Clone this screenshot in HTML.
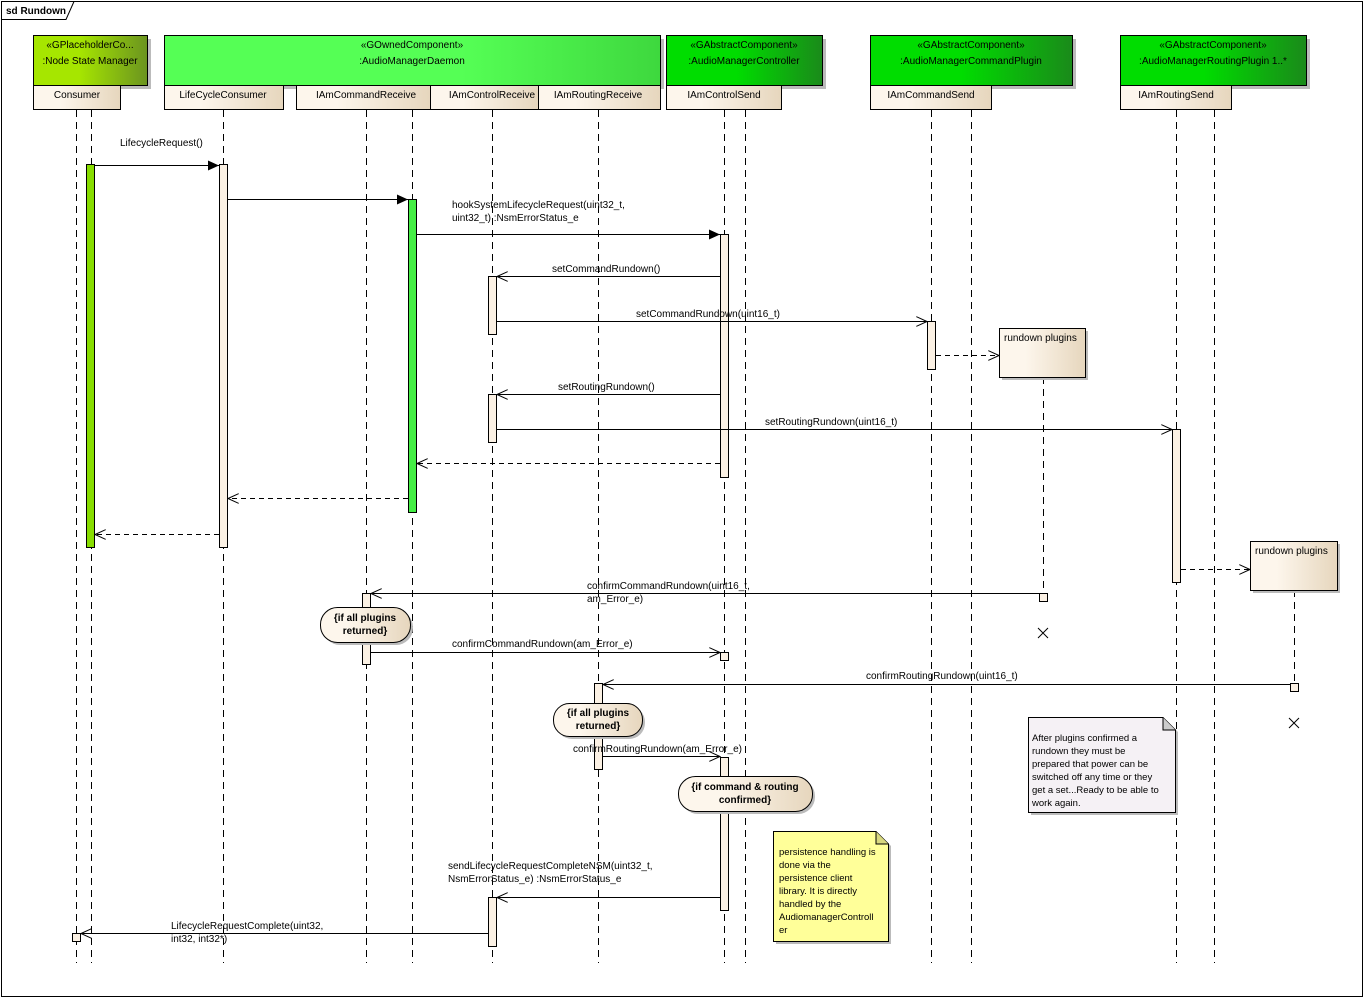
<!DOCTYPE html>
<html><head><meta charset="utf-8"><style>
html,body{margin:0;padding:0;background:#fff;}
svg{display:block;font-family:"Liberation Sans",Arial,sans-serif;font-size:10px;}
</style></head><body>
<svg width="1364" height="999" viewBox="0 0 1364 999" xmlns="http://www.w3.org/2000/svg">
<defs>
<linearGradient id="gN" x1="0" x2="1"><stop offset="0.4" stop-color="#a6e600"/><stop offset="1" stop-color="#6b9420"/></linearGradient>
<linearGradient id="gD" x1="0" x2="1"><stop offset="0.6" stop-color="#55ff55"/><stop offset="1" stop-color="#3ed83e"/></linearGradient>
<linearGradient id="gA" x1="0" x2="1"><stop offset="0.45" stop-color="#00dd00"/><stop offset="1" stop-color="#1a8a1a"/></linearGradient>
<linearGradient id="gP" x1="0" x2="1"><stop offset="0.3" stop-color="#fdf6ec"/><stop offset="1" stop-color="#e6d6bd"/></linearGradient>
<marker id="af" markerWidth="12" markerHeight="10" refX="11" refY="5" orient="auto" markerUnits="userSpaceOnUse"><path d="M0,0 L11,5 L0,10 z" fill="#000"/></marker>
<marker id="ao" markerWidth="12" markerHeight="10" refX="11" refY="5" orient="auto" markerUnits="userSpaceOnUse"><path d="M0,0 L11,5 L0,10" fill="none" stroke="#000"/></marker>
</defs>
<rect x="1.5" y="1.5" width="1361" height="995" fill="#fff" stroke="#000"/>
<path d="M1.5,19.5 H66 L74,1.5" fill="none" stroke="#000"/>
<text x="6" y="14" font-weight="bold">sd Rundown</text>

<g stroke="#000" stroke-dasharray="7,5" stroke-width="1">
<line x1="76.5" y1="110" x2="76.5" y2="963"/><line x1="91.5" y1="110" x2="91.5" y2="963"/>
<line x1="223.5" y1="110" x2="223.5" y2="963"/>
<line x1="366.5" y1="110" x2="366.5" y2="963"/><line x1="412.5" y1="110" x2="412.5" y2="963"/>
<line x1="492.5" y1="110" x2="492.5" y2="963"/>
<line x1="598.5" y1="110" x2="598.5" y2="963"/>
<line x1="724.5" y1="110" x2="724.5" y2="963"/><line x1="745.5" y1="110" x2="745.5" y2="963"/>
<line x1="931.5" y1="110" x2="931.5" y2="963"/><line x1="971.5" y1="110" x2="971.5" y2="963"/>
<line x1="1176.5" y1="110" x2="1176.5" y2="963"/><line x1="1214.5" y1="110" x2="1214.5" y2="963"/>
<line x1="1043.5" y1="377" x2="1043.5" y2="593"/>
<line x1="1294.5" y1="590" x2="1294.5" y2="683"/>
</g>

<g stroke="#000">
<rect x="37" y="39" width="114" height="50" fill="#bbb" stroke="none"/>
<rect x="33.5" y="35.5" width="114" height="50" fill="url(#gN)"/>
<rect x="168" y="39" width="496" height="50" fill="#bbb" stroke="none"/>
<rect x="164.5" y="35.5" width="496" height="50" fill="url(#gD)"/>
<rect x="670" y="39" width="156" height="50" fill="#bbb" stroke="none"/>
<rect x="666.5" y="35.5" width="156" height="50" fill="url(#gA)"/>
<rect x="874" y="39" width="202" height="50" fill="#bbb" stroke="none"/>
<rect x="870.5" y="35.5" width="202" height="50" fill="url(#gA)"/>
<rect x="1124" y="39" width="186" height="50" fill="#bbb" stroke="none"/>
<rect x="1120.5" y="35.5" width="186" height="50" fill="url(#gA)"/>
</g>
<g text-anchor="middle" fill="#000">
<text x="90" y="48">«GPlaceholderCo...</text><text x="90" y="64">:Node State Manager</text>
<text x="412" y="48">«GOwnedComponent»</text><text x="412" y="64">:AudioManagerDaemon</text>
<text x="744" y="48">«GAbstractComponent»</text><text x="744" y="64">:AudioManagerController</text>
<text x="971" y="48">«GAbstractComponent»</text><text x="971" y="64">:AudioManagerCommandPlugin</text>
<text x="1213" y="48">«GAbstractComponent»</text><text x="1213" y="64">:AudioManagerRoutingPlugin 1..*</text>
</g>
<g stroke="#000" fill="url(#gP)">
<rect x="33.5" y="85.5" width="87" height="24"/>
<rect x="164.5" y="85.5" width="119" height="24"/>
<rect x="296.5" y="85.5" width="134" height="24"/>
<rect x="430.5" y="85.5" width="108" height="24"/>
<rect x="538.5" y="85.5" width="122" height="24"/>
<rect x="666.5" y="85.5" width="115" height="24"/>
<rect x="870.5" y="85.5" width="121" height="24"/>
<rect x="1120.5" y="85.5" width="111" height="24"/>
</g>
<g text-anchor="middle">
<text x="77" y="98">Consumer</text>
<text x="223" y="98">LifeCycleConsumer</text>
<text x="366" y="98">IAmCommandReceive</text>
<text x="492" y="98">IAmControlReceive</text>
<text x="598" y="98">IAmRoutingReceive</text>
<text x="724" y="98">IAmControlSend</text>
<text x="931" y="98">IAmCommandSend</text>
<text x="1176" y="98">IAmRoutingSend</text>
</g>

<g stroke="#000" fill="#fbf1e4">
<rect x="86.5" y="164.5" width="8" height="383" fill="#88dd00"/>
<rect x="219.5" y="164.5" width="8" height="383"/>
<rect x="408.5" y="199.5" width="8" height="313" fill="#44ee44"/>
<rect x="720.5" y="234.5" width="8" height="243"/>
<rect x="488.5" y="276.5" width="8" height="58"/>
<rect x="488.5" y="394.5" width="8" height="48"/>
<rect x="927.5" y="321.5" width="8" height="48"/>
<rect x="1172.5" y="429.5" width="8" height="153"/>
<rect x="362.5" y="593.5" width="8" height="71"/>
<rect x="720.5" y="652.5" width="8" height="8"/>
<rect x="594.5" y="683.5" width="8" height="86"/>
<rect x="720.5" y="757.5" width="8" height="153"/>
<rect x="488.5" y="897.5" width="8" height="49"/>
<rect x="72.5" y="933.5" width="8" height="8"/>
<rect x="1039.5" y="593.5" width="8" height="8"/>
<rect x="1290.5" y="683.5" width="8" height="8"/>
</g>
<g stroke="#000"><path d="M1038,628 L1048,638 M1048,628 L1038,638"/><path d="M1289,718 L1299,728 M1299,718 L1289,728"/></g>

<g stroke="#000">
<rect x="1002" y="331" width="86" height="49" fill="#bbb" stroke="none"/>
<rect x="999.5" y="328.5" width="86" height="49" fill="url(#gP)"/>
<rect x="1253" y="544" width="87" height="49" fill="#bbb" stroke="none"/>
<rect x="1250.5" y="541.5" width="87" height="49" fill="url(#gP)"/>
</g>
<text x="1004" y="341">rundown plugins</text>
<text x="1255" y="554">rundown plugins</text>

<g stroke="#000" fill="none">
<line x1="95" y1="165.5" x2="219" y2="165.5" marker-end="url(#af)"/>
<line x1="228" y1="199.5" x2="408" y2="199.5" marker-end="url(#af)"/>
<line x1="417" y1="234.5" x2="720" y2="234.5" marker-end="url(#af)"/>
<line x1="720" y1="276.5" x2="497" y2="276.5" marker-end="url(#ao)"/>
<line x1="497" y1="321.5" x2="927" y2="321.5" marker-end="url(#ao)"/>
<line x1="936" y1="355.5" x2="999" y2="355.5" stroke-dasharray="5,4" marker-end="url(#ao)"/>
<line x1="720" y1="394.5" x2="497" y2="394.5" marker-end="url(#ao)"/>
<line x1="497" y1="429.5" x2="1172" y2="429.5" marker-end="url(#ao)"/>
<line x1="720" y1="463.5" x2="417" y2="463.5" stroke-dasharray="5,4" marker-end="url(#ao)"/>
<line x1="408" y1="498.5" x2="228" y2="498.5" stroke-dasharray="5,4" marker-end="url(#ao)"/>
<line x1="219" y1="534.5" x2="95" y2="534.5" stroke-dasharray="5,4" marker-end="url(#ao)"/>
<line x1="1181" y1="569.5" x2="1250" y2="569.5" stroke-dasharray="5,4" marker-end="url(#ao)"/>
<line x1="1039" y1="593.5" x2="371" y2="593.5" marker-end="url(#ao)"/>
<line x1="371" y1="652.5" x2="720" y2="652.5" marker-end="url(#ao)"/>
<line x1="1290" y1="684.5" x2="603" y2="684.5" marker-end="url(#ao)"/>
<line x1="603" y1="756.5" x2="720" y2="756.5" marker-end="url(#ao)"/>
<line x1="720" y1="897.5" x2="497" y2="897.5" marker-end="url(#ao)"/>
<line x1="488" y1="933.5" x2="81" y2="933.5" marker-end="url(#ao)"/>
</g>
<g>
<text x="120" y="146">LifecycleRequest()</text>
<text x="452" y="208">hookSystemLifecycleRequest(uint32_t,</text>
<text x="452" y="221">uint32_t) :NsmErrorStatus_e</text>
<text x="552" y="272">setCommandRundown()</text>
<text x="636" y="317">setCommandRundown(uint16_t)</text>
<text x="558" y="390">setRoutingRundown()</text>
<text x="765" y="425">setRoutingRundown(uint16_t)</text>
<text x="587" y="589">confirmCommandRundown(uint16_t,</text>
<text x="587" y="602">am_Error_e)</text>
<text x="452" y="647">confirmCommandRundown(am_Error_e)</text>
<text x="866" y="679">confirmRoutingRundown(uint16_t)</text>
<text x="573" y="752">confirmRoutingRundown(am_Error_e)</text>
<text x="448" y="869">sendLifecycleRequestCompleteNSM(uint32_t,</text>
<text x="448" y="882">NsmErrorStatus_e) :NsmErrorStatus_e</text>
<text x="171" y="929">LifecycleRequestComplete(uint32,</text>
<text x="171" y="942">int32, int32*)</text>
</g>

<g stroke="#000" fill="url(#gP)">
<rect x="323" y="610" width="90" height="35" rx="17" fill="#bbb" stroke="none"/>
<rect x="320.5" y="607.5" width="90" height="35" rx="17"/>
<rect x="556" y="706" width="89" height="33" rx="16" fill="#bbb" stroke="none"/>
<rect x="553.5" y="703.5" width="89" height="33" rx="16"/>
<rect x="681" y="779" width="134" height="35" rx="17" fill="#bbb" stroke="none"/>
<rect x="678.5" y="776.5" width="134" height="35" rx="17"/>
</g>
<g text-anchor="middle" font-weight="bold">
<text x="365" y="621">{if all plugins</text><text x="365" y="634">returned}</text>
<text x="598" y="716">{if all plugins</text><text x="598" y="729">returned}</text>
<text x="745" y="790">{if command &amp; routing</text><text x="745" y="803">confirmed}</text>
</g>

<g stroke="#000">
<path d="M776,834 H879 L891,846 V944 H776 z" fill="#bbb" stroke="none"/>
<path d="M773.5,831.5 H876 L888.5,844 V941.5 H773.5 z" fill="#ffff99"/>
<path d="M876,831.5 V844 H888.5" fill="#d8d880"/>
<path d="M1031,720 H1166 L1178,732 V815 H1031 z" fill="#bbb" stroke="none"/>
<path d="M1028.5,717.5 H1163 L1175.5,730 V812.5 H1028.5 z" fill="#f5f1f5"/>
<path d="M1163,717.5 V730 H1175.5" fill="#ccc"/>
</g>
<g font-size="9.5">
<text x="779" y="855">persistence handling is</text>
<text x="779" y="868">done via the</text>
<text x="779" y="881">persistence client</text>
<text x="779" y="894">library. It is directly</text>
<text x="779" y="907">handled by the</text>
<text x="779" y="920">AudiomanagerControll</text>
<text x="779" y="933">er</text>
<text x="1032" y="741">After plugins confirmed a</text>
<text x="1032" y="754">rundown they must be</text>
<text x="1032" y="767">prepared that power can be</text>
<text x="1032" y="780">switched off any time or they</text>
<text x="1032" y="793">get a set...Ready to be able to</text>
<text x="1032" y="806">work again.</text>
</g>
</svg>
</body></html>
